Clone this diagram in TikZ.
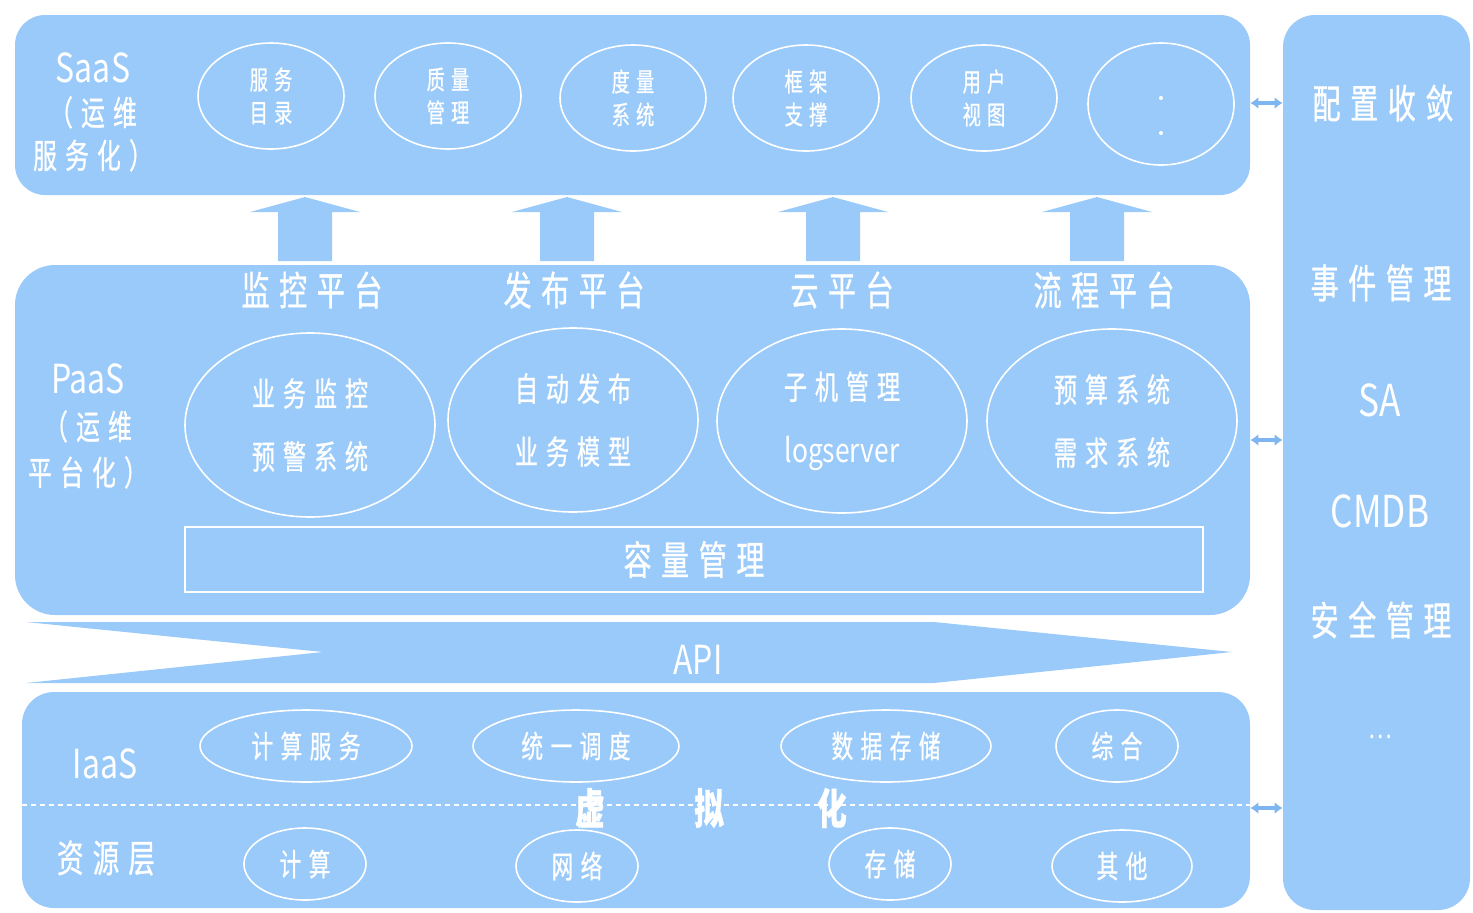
\documentclass[tikz,border=0pt]{standalone}
\usepackage{fontspec}
\setmainfont{Noto Sans CJK SC}[FakeStretch=0.8]
\newfontfamily\cjk{Noto Sans CJK SC}[FakeStretch=0.7,LetterSpace=24,FakeBold=0.8]
\usetikzlibrary{shapes.geometric,arrows.meta,positioning}
\definecolor{paneblue}{RGB}{153,202,250}
\definecolor{linkblue}{RGB}{125,182,240}
\tikzset{
  panel/.style={rectangle,fill=paneblue,inner sep=0pt,rounded corners=#1},
  bubble/.style={ellipse,draw=white,line width=.8pt,inner sep=0pt,text=white,align=center},
  txt/.style={text=white,inner sep=0pt,align=center},
  link/.style={draw=linkblue,line width=2pt,<->,>={Latex[length=4pt,width=6pt]}}
}
\begin{document}
\begin{tikzpicture}[x=0.5pt,y=-0.5pt]
\useasboundingbox (0,0) rectangle (1473,912);
% layers
\node[panel=15pt,minimum width=617.5pt,minimum height=90pt] (saas) at (632.5,105) {};
\node[panel=20pt,minimum width=617.5pt,minimum height=175pt] (paas) at (632.5,440) {};
\node[panel=16pt,minimum width=614pt,minimum height=108pt] (iaas) at (636,800) {};
\node[panel=16pt,minimum width=93.5pt,minimum height=447.5pt] (ops) at (1376.5,462.5) {};
% SaaS
\node[txt,font=\cjk\fontsize{17}{21.5}\selectfont] (saaslbl) at (93,112)
  {{\rmfamily\fontsize{20}{21.5}\selectfont SaaS}\\（运维\\服务化）};
\begin{scope}[every node/.style={bubble,minimum width=73pt,minimum height=53pt,font=\cjk\fontsize{13}{16.5}\selectfont}]
  \node (svc) at (271,96) {服务\\目录};
  \node (qual) at (448,96) {质量\\管理};
  \node (meas) at (633,98) {度量\\系统};
  \node (frame) at (806,98) {框架\\支撑};
  \node (view) at (984,98) {用户\\视图};
  \node[minimum height=61pt] (more) at (1161,104) {};
\end{scope}
\fill[white] (1161,98) circle (1pt) (1161,133) circle (1pt);
% arrows up
\foreach \x in {305,567,833,1097}
  \fill[paneblue] (\x-27,261) -- (\x-27,212) -- (\x-55,212) -- (\x,197)
    -- (\x+55,212) -- (\x+27,212) -- (\x+27,261) -- cycle;
% PaaS
\begin{scope}[every node/.style={txt,font=\cjk\fontsize{20}{24}\selectfont}]
  \node (mon) at (312,290) {监控平台};
  \node (pub) at (574,290) {发布平台};
  \node (cloud) at (842,290) {云平台};
  \node (flow) at (1104,290) {流程平台};
\end{scope}
\node[txt,font=\cjk\fontsize{17}{23}\selectfont] (paaslbl) at (88,426)
  {{\rmfamily\fontsize{20}{23}\selectfont PaaS}\\（运维\\平台化）};
\begin{scope}[every node/.style={bubble,minimum width=125pt,minimum height=92pt,font=\cjk\fontsize{16.5}{31.5}\selectfont}]
  \node (alarm) at (310,425) {业务监控\\预警系统};
  \node (deploy) at (573,420) {自动发布\\业务模型};
  \node (host) at (842,421) {子机管理\\{\rmfamily logserver}};
  \node (budget) at (1112,421) {预算系统\\需求系统};
\end{scope}
\node[draw=white,line width=.8pt,minimum width=509pt,minimum height=32.5pt,inner sep=0pt,
  text=white,font=\cjk\fontsize{20}{24}\selectfont] (cap) at (694,559.5) {容量管理};
% API
\fill[paneblue] (26,622) -- (934,622) -- (1232,652) -- (934,683) -- (26,683) -- (323,652) -- cycle;
\node[txt,font=\fontsize{20}{24}\selectfont] (api) at (698,660) {API};
% IaaS
\draw[white,line width=.8pt,dash pattern=on 2.5pt off 2pt] (iaas.west |- 0,805) -- (iaas.east |- 0,805);
\node[txt,font=\fontsize{20}{24}\selectfont] (iaaslbl) at (105,764) {IaaS};
\node[txt,font=\cjk\fontsize{19}{22}\selectfont] (res) at (106,858) {资源层};
\begin{scope}[every node/.style={bubble,minimum height=36pt,font=\cjk\fontsize{15.5}{18}\selectfont}]
  \node[minimum width=106pt] (calc) at (306,746) {计算服务};
  \node[minimum width=103pt] (sched) at (576,746) {统一调度};
  \node[minimum width=105pt] (store) at (886,746) {数据存储};
  \node[minimum width=61pt] (mix) at (1117,746) {综合};
  \node[minimum width=61pt] (cpu) at (305,864) {计算};
  \node[minimum width=61pt] (net) at (577,866) {网络};
  \node[minimum width=61pt] (disk) at (890,864) {存储};
  \node[minimum width=70pt] (misc) at (1122,866) {其他};
\end{scope}
\begin{scope}[every node/.style={txt,font=\cjk\bfseries\fontsize{21}{24}\selectfont}]
  \node (v1) at (590,808) {虚};
  \node (v2) at (709,808) {拟};
  \node (v3) at (832,808) {化};
\end{scope}
% ops column
\begin{scope}[every node/.style={txt,font=\cjk\fontsize{20}{24}\selectfont}]
  \node (conf) at (1383,103) {配置收敛};
  \node (event) at (1381,283) {事件管理};
  \node[font=\rmfamily\fontsize{22}{26}\selectfont] (sa) at (1380,400) {SA};
  \node[font=\rmfamily\fontsize{22}{26}\selectfont] (cmdb) at (1380,511) {CMDB};
  \node (sec) at (1381,620) {安全管理};
  \node[font=\rmfamily\fontsize{14}{18}\selectfont] (dots) at (1380,737) {…};
\end{scope}
% links
\draw[link] (saas.east |- conf) -- (ops.west |- conf);
\draw[link] (paas.east) -- (ops.west |- paas.east);
\draw[link] (iaas.east |- v1) -- (ops.west |- v1);
\end{tikzpicture}
\end{document}
